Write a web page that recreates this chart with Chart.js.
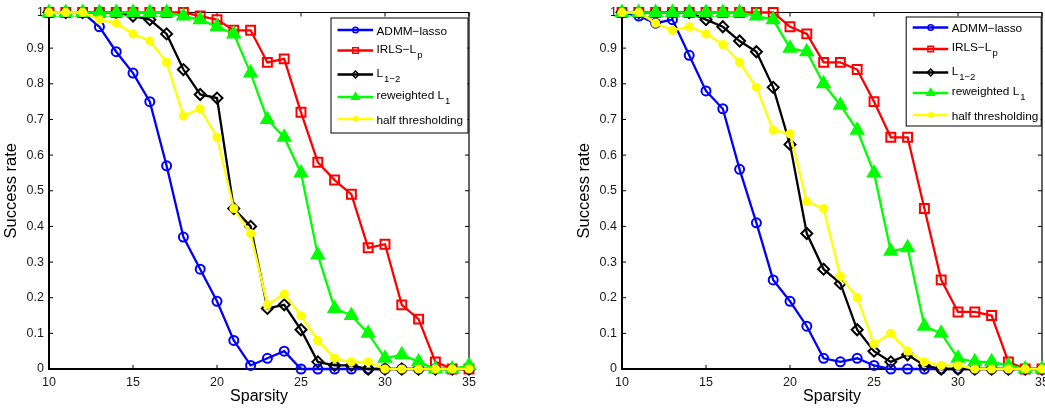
<!DOCTYPE html>
<html>
<head>
<meta charset="utf-8">
<script src="https://cdn.jsdelivr.net/npm/chart.js@4.4.0/dist/chart.umd.min.js"></script>
<style>
  html, body { margin: 0; padding: 0; background: #fff; overflow: hidden; }
  .pane { position: absolute; top: 0; }
</style>
</head>
<body>
<div class="pane" style="left:0px"><canvas id="leftChart" width="522" height="411"></canvas></div>
<div class="pane" style="left:522px"><canvas id="rightChart" width="560" height="411"></canvas></div>
<script>
// x values (sparsity)
let sparsity = [10, 11, 12, 13, 14, 15, 16, 17, 18, 19, 20, 21, 22, 23, 24, 25, 26, 27, 28, 29, 30, 31, 32, 33, 34, 35];

// left panel
let admmLeft  = [1, 1, 1, 0.96, 0.89, 0.83, 0.75, 0.57, 0.37, 0.28, 0.19, 0.08, 0.01, 0.03, 0.05, 0, 0, 0, 0, 0, 0, 0, 0, 0, 0, 0];
let irlsLeft  = [1, 1, 1, 1, 1, 1, 1, 1, 1, 0.99, 0.98, 0.95, 0.95, 0.86, 0.87, 0.72, 0.58, 0.53, 0.49, 0.34, 0.35, 0.18, 0.14, 0.02, 0, 0];
let l12Left   = [1, 1, 1, 1, 1, 0.99, 0.98, 0.94, 0.84, 0.77, 0.76, 0.45, 0.40, 0.17, 0.18, 0.11, 0.02, 0.01, 0.01, 0, 0, 0, 0, 0, 0, 0];
let rwL1Left  = [1, 1, 1, 1, 1, 1, 1, 1, 0.99, 0.98, 0.96, 0.94, 0.83, 0.70, 0.65, 0.55, 0.32, 0.17, 0.15, 0.10, 0.03, 0.04, 0.02, 0, 0, 0.01];
let halfLeft  = [1, 1, 1, 0.98, 0.97, 0.94, 0.92, 0.86, 0.71, 0.73, 0.65, 0.45, 0.38, 0.18, 0.21, 0.15, 0.08, 0.03, 0.02, 0.02, 0, 0, 0, 0, 0, 0];

// right panel
let admmRight = [1, 0.99, 0.97, 0.98, 0.88, 0.78, 0.73, 0.56, 0.41, 0.25, 0.19, 0.12, 0.03, 0.02, 0.03, 0.01, 0, 0, 0, 0, 0, 0, 0, 0, 0, 0];
let irlsRight = [1, 1, 1, 1, 1, 1, 1, 1, 1, 1, 0.96, 0.94, 0.86, 0.86, 0.84, 0.75, 0.65, 0.65, 0.45, 0.25, 0.16, 0.16, 0.15, 0.02, 0, 0];
let l12Right  = [1, 1, 1, 1, 1, 0.98, 0.96, 0.92, 0.89, 0.79, 0.63, 0.38, 0.28, 0.24, 0.11, 0.05, 0.02, 0.04, 0.01, 0, 0, 0, 0, 0, 0, 0];
let rwL1Right = [1, 1, 1, 1, 1, 1, 1, 1, 0.99, 0.98, 0.90, 0.89, 0.80, 0.74, 0.67, 0.55, 0.33, 0.34, 0.12, 0.10, 0.03, 0.02, 0.02, 0.01, 0, 0];
let halfRight = [1, 1, 0.97, 0.95, 0.96, 0.94, 0.91, 0.86, 0.79, 0.67, 0.66, 0.47, 0.45, 0.26, 0.20, 0.07, 0.10, 0.05, 0.02, 0.01, 0.01, 0, 0, 0, 0, 0];

// legend names: [main text, subscript]
let legendNames = [['ADMM\u2212lasso', ''], ['IRLS\u2212L', 'p'], ['L', '1\u22122'], ['reweighted L', '1'], ['half thresholding', '']];
let xTicks = [10, 15, 20, 25, 30, 35];

const FONT = '"Liberation Sans", Arial, Helvetica, sans-serif';

// marker style per series
const styles = [
    { color: 'rgb(0,0,255)',   point: 'circle',  radius: 4.5, fill: false, order: 4 },
    { color: 'rgb(255,0,0)',   point: 'rect',    radius: 6.3, fill: false, order: 3 },
    { color: 'rgb(0,0,0)',     point: 'rectRot', radius: 5.5, fill: false, order: 2 },
    { color: 'rgb(0,255,0)',   point: 'triangle',radius: 7,   fill: true,  order: 1 },
    { color: 'rgb(255,255,0)', point: 'circle',  radius: 3.6, fill: true,  order: 0 }
];

function toPoints(vals) {
    return sparsity.map((s, i) => ({ x: s, y: vals[i] }));
}

function makeDatasets(series) {
    return series.map((vals, i) => {
        let st = styles[i];
        return {
            label: legendNames[i].join(''),
            data: toPoints(vals),
            borderColor: st.color,
            borderWidth: 2.3,
            pointStyle: st.point,
            pointRadius: st.radius,
            pointBorderColor: st.color,
            pointBackgroundColor: st.fill ? st.color : 'rgba(0,0,0,0)',
            pointBorderWidth: 2,
            tension: 0,
            clip: false,
            order: st.order
        };
    });
}

// matlab-like box with inward ticks
const boxPlugin = {
    id: 'boxTicks',
    beforeDatasetsDraw(chart) {
        const ctx = chart.ctx, a = chart.chartArea;
        const xs = chart.scales.x, ys = chart.scales.y;
        ctx.save();
        ctx.strokeStyle = '#000';
        ctx.lineWidth = 1.2;
        ctx.beginPath();
        ctx.moveTo(a.left, a.top); ctx.lineTo(a.right, a.top); ctx.lineTo(a.right, a.bottom);
        ctx.stroke();
        ctx.lineWidth = 1;
        ctx.beginPath();
        xTicks.forEach(v => {
            let px = xs.getPixelForValue(v);
            ctx.moveTo(px, a.bottom); ctx.lineTo(px, a.bottom - 4);
            ctx.moveTo(px, a.top); ctx.lineTo(px, a.top + 4);
        });
        for (let k = 0; k <= 10; k++) {
            let py = ys.getPixelForValue(k / 10);
            ctx.moveTo(a.left, py); ctx.lineTo(a.left + 4, py);
            ctx.moveTo(a.right, py); ctx.lineTo(a.right - 4, py);
        }
        ctx.stroke();
        ctx.lineWidth = 2;
        ctx.beginPath();
        ctx.moveTo(a.left, a.top); ctx.lineTo(a.left, a.bottom); ctx.lineTo(a.right, a.bottom);
        ctx.stroke();
        ctx.restore();
    }
};

// legend box with line + marker + subscripted text
const legendPlugin = {
    id: 'mLegend',
    afterDraw(chart, args, opts) {
        const ctx = chart.ctx, a = chart.chartArea;
        const w = opts.width, h = opts.height;
        const left = a.right - opts.insetRight - w;
        const top = a.top + opts.insetTop;
        ctx.save();
        ctx.fillStyle = '#fff';
        ctx.fillRect(left, top, w, h);
        ctx.strokeStyle = '#000';
        ctx.lineWidth = 1;
        ctx.strokeRect(left + 0.5, top + 0.5, w, h);
        chart.data.datasets.forEach((ds, i) => {
            let y = top + opts.rows[i];
            let st = styles[i];
            ctx.strokeStyle = st.color;
            ctx.lineWidth = 2.3;
            ctx.beginPath();
            ctx.moveTo(left + 7, y); ctx.lineTo(left + 42.5, y);
            ctx.stroke();
            ctx.fillStyle = st.fill ? st.color : 'rgba(0,0,0,0)';
            ctx.lineWidth = 1.5;
            Chart.helpers.drawPoint(ctx, { pointStyle: st.point, radius: st.radius * 0.62, borderWidth: 1.5 }, left + 25, y);
            let name = legendNames[i];
            let base = y + 4.5 - (name[1] ? 2.5 : 0);
            ctx.fillStyle = '#000';
            ctx.textBaseline = 'alphabetic';
            ctx.font = '11.8px ' + FONT;
            ctx.fillText(name[0], left + 46, base);
            if (name[1]) {
                let tw = ctx.measureText(name[0]).width;
                ctx.font = '9.5px ' + FONT;
                ctx.fillText(name[1], left + 46 + tw + 1, base + 5);
            }
        });
        ctx.restore();
    }
};

function makeChart(id, series, padLeft, padRight, legendOpts) {
    let ctx = document.getElementById(id).getContext('2d');
    return new Chart(ctx, {
        type: 'line',
        data: { datasets: makeDatasets(series) },
        plugins: [boxPlugin, legendPlugin],
        options: {
            responsive: false,
            animation: false,
            layout: { padding: { left: padLeft, right: padRight, top: 10, bottom: 5 } },
            plugins: {
                legend: { display: false },
                tooltip: { enabled: false },
                mLegend: legendOpts
            },
            scales: {
                x: {
                    type: 'linear',
                    min: 10, max: 35,
                    grid: { display: false, drawTicks: false },
                    border: { display: false },
                    afterBuildTicks: s => { s.ticks = xTicks.map(v => ({ value: v })); },
                    afterFit: s => { s.height = 37; },
                    ticks: { color: '#1a1a1a', padding: 6, maxRotation: 0, font: { family: FONT, size: 12.5 } },
                    title: { display: true, text: 'Sparsity', color: '#000', padding: 0, font: { family: FONT, size: 16 } }
                },
                y: {
                    min: 0, max: 1,
                    grid: { display: false, drawTicks: false },
                    border: { display: false },
                    afterFit: s => { s.width = 47; },
                    ticks: {
                        stepSize: 0.1, color: '#1a1a1a', padding: 5,
                        font: { family: FONT, size: 12.5 },
                        callback: v => String(Math.round(v * 10) / 10)
                    },
                    title: { display: true, text: 'Success rate', color: '#000', padding: 0, font: { family: FONT, size: 16.5 } }
                }
            }
        }
    });
}

makeChart('leftChart', [admmLeft, irlsLeft, l12Left, rwL1Left, halfLeft], 2, 53,
    { width: 137, height: 115, insetRight: 1.5, insetTop: 5, rows: [12.5, 33, 57, 79.5, 101.5] });
makeChart('rightChart', [admmRight, irlsRight, l12Right, rwL1Right, halfRight], 53, 40,
    { width: 135, height: 109, insetRight: 1.3, insetTop: 4, rows: [11, 32.5, 56, 76.5, 98.5] });
</script>
</body>
</html>
